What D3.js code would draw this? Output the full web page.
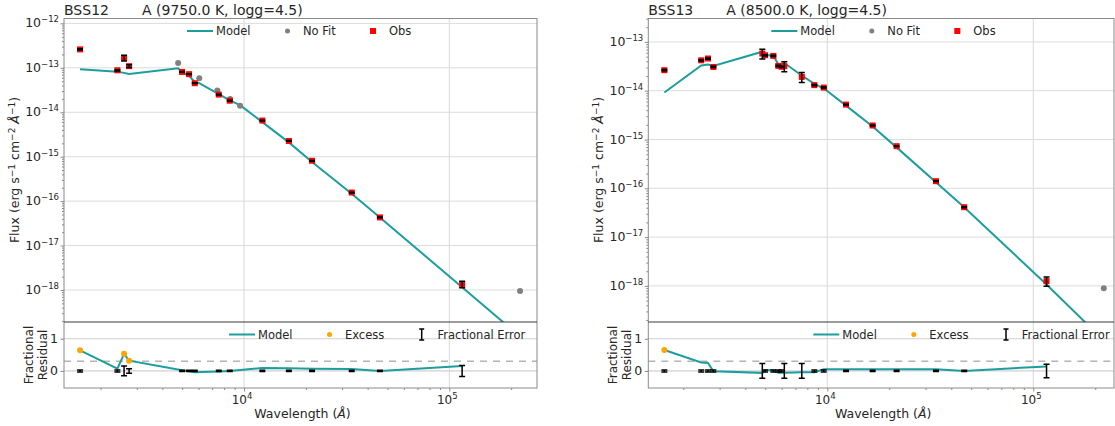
<!DOCTYPE html>
<html>
<head>
<meta charset="utf-8">
<script src="https://cdn.jsdelivr.net/npm/d3@7"></script>
<style>
  body { margin: 0; background: #fff; }
  svg text { font-family: "DejaVu Sans", sans-serif; fill: #262626; }
</style>
</head>
<body>
<svg width="1115" height="426"></svg>
<script>
// ---- BSS12 ----
var obsWaveL  = [1589, 2415, 2603, 2754, 4990, 5395, 5753, 7530, 8516, 12280, 16530, 21440, 33460, 45900, 115400];
var obsFluxL  = [2.6e-13, 8.8e-14, 1.67e-13, 1.09e-13, 8.07e-14, 7.2e-14, 4.5e-14, 2.5e-14, 1.82e-14, 6.5e-15, 2.26e-15, 8.1e-16, 1.56e-16, 4.3e-17, 1.35e-18];
var obsErrL   = [0.03, 0.03, 0.15, 0.07, 0.02, 0.02, 0.02, 0.02, 0.02, 0.02, 0.02, 0.02, 0.02, 0.02, 0.17];
var residL    = [0.64, 0.07, 0.53, 0.32, 0.02, -0.01, -0.04, -0.02, 0.0, 0.09, 0.08, 0.07, 0.06, 0.0, 0.15];
var nofitWaveL = [4773, 6050, 7410, 8550, 9560, 221000];
var nofitFluxL = [1.29e-13, 5.8e-14, 3.1e-14, 2.0e-14, 1.4e-14, 9.5e-19];
var modelWaveL = [1589, 2415, 2603, 2754, 4773, 4990, 5395, 5753, 6050, 7410, 7530, 8516, 8550, 9560, 12280, 16530, 21440, 33460, 45900, 115400, 221000];
var modelFluxL = [9.3e-14, 8.2e-14, 7.7e-14, 7.3e-14, 9.8e-14, 8.0e-14, 6.6e-14, 4.8e-14, 4.5e-14, 2.65e-14, 2.55e-14, 1.85e-14, 1.83e-14, 1.45e-14, 6.0e-15, 2.1e-15, 7.6e-16, 1.47e-16, 4.3e-17, 1.15e-18, 9e-20];

// ---- BSS13 ----
var obsWaveR  = [1618, 2443, 2634, 2798, 4836, 4985, 5470, 5783, 6005, 6185, 7520, 8650, 9610, 12330, 16600, 21700, 33700, 46200, 116000];
var obsFluxR  = [2.63e-14, 4.2e-14, 4.57e-14, 3.07e-14, 5.78e-14, 5.33e-14, 5.17e-14, 3.23e-14, 3.09e-14, 3.18e-14, 1.92e-14, 1.3e-14, 1.16e-14, 5.2e-15, 1.94e-15, 7.3e-16, 1.4e-16, 4.1e-17, 1.25e-18];
var obsErrR   = [0.03, 0.03, 0.03, 0.03, 0.23, 0.03, 0.03, 0.03, 0.03, 0.23, 0.23, 0.03, 0.03, 0.02, 0.02, 0.02, 0.02, 0.02, 0.21];
var residR    = [0.65, 0.26, 0.25, -0.01, -0.06, 0.03, 0.02, -0.06, -0.06, -0.06, -0.04, -0.04, 0.05, 0.05, 0.05, 0.05, 0.05, 0.0, 0.14];
var nofitWaveR = [220000];
var nofitFluxR = [8.9e-19];
var modelWaveR = [1618, 2443, 2634, 2798, 4836, 4985, 5470, 5783, 6005, 6185, 7520, 8650, 9610, 12330, 16600, 21700, 33700, 46200, 116000, 220000];
var modelFluxR = [9.2e-15, 3.3e-14, 3.45e-14, 3.2e-14, 6.3e-14, 5.4e-14, 5.2e-14, 3.5e-14, 3.55e-14, 3.7e-14, 2.05e-14, 1.38e-14, 1.12e-14, 4.95e-15, 1.84e-15, 6.9e-16, 1.33e-16, 4.1e-17, 1.07e-18, 7.6e-20];

var excessCut = 0.3;
var teal = '#1c9e9e';

var svg = d3.select('svg');

function sup(sel, base, exp) {
    sel.text(base);
    sel.append('tspan').attr('dy', -5).attr('font-size', 8.5).text(exp);
}

function drawPanel(p) {
    var g = svg.append('g');
    var top = 18.5, mid = 322, bot = 388;

    var x = d3.scaleLog().domain(p.xDom).range([p.x0, p.x1]);
    var y = d3.scaleLog().domain(p.yDom).range([mid, top]);
    var yr = d3.scaleLinear().domain([-0.53, 1.52]).range([bot, mid]);

    var clipId = 'clip' + p.name;
    g.append('clipPath').attr('id', clipId)
        .append('rect').attr('x', p.x0).attr('y', top)
        .attr('width', p.x1 - p.x0).attr('height', mid - top);

    // grid
    var decX = [1e4, 1e5];
    g.selectAll('.gx').data(decX).enter().append('line')
        .attr('x1', d => x(d)).attr('x2', d => x(d))
        .attr('y1', top).attr('y2', bot)
        .attr('stroke', '#d8d8d8').attr('stroke-width', 1);
    g.selectAll('.gy').data(p.yTicks).enter().append('line')
        .attr('x1', p.x0).attr('x2', p.x1)
        .attr('y1', d => y(d)).attr('y2', d => y(d))
        .attr('stroke', '#dcdcdc').attr('stroke-width', 1);
    g.selectAll('.gr').data([0, 1]).enter().append('line')
        .attr('x1', p.x0).attr('x2', p.x1)
        .attr('y1', d => yr(d)).attr('y2', d => yr(d))
        .attr('stroke', '#d0d0d0').attr('stroke-width', 1.2);
    g.append('line')
        .attr('x1', p.x0).attr('x2', p.x1)
        .attr('y1', yr(excessCut)).attr('y2', yr(excessCut))
        .attr('stroke', '#b4b4b4').attr('stroke-width', 1.5)
        .attr('stroke-dasharray', '7,6');

    // main panel marks
    var m = g.append('g').attr('clip-path', 'url(#' + clipId + ')');
    var model = d3.zip(p.modelWave, p.modelFlux);
    m.append('path').datum(model)
        .attr('d', d3.line().x(d => x(d[0])).y(d => y(d[1])))
        .attr('fill', 'none').attr('stroke', teal).attr('stroke-width', 2);

    m.selectAll('.nf').data(d3.zip(p.nofitWave, p.nofitFlux)).enter().append('circle')
        .attr('cx', d => x(d[0])).attr('cy', d => y(d[1])).attr('r', 3)
        .attr('fill', '#808080');

    var obs = d3.zip(p.obsWave, p.obsFlux, p.obsErr, p.resid);
    m.selectAll('.ob').data(obs).enter().append('rect')
        .attr('x', d => x(d[0]) - 3).attr('y', d => y(d[1]) - 3)
        .attr('width', 6).attr('height', 6).attr('fill', '#ff0000');

    function errBars(sel, data, fx, lo, hi) {
        sel.selectAll(null).data(data).enter().append('path')
            .attr('d', function(d) {
                var cx = fx(d), a = lo(d), b = hi(d);
                return 'M' + cx + ',' + a + 'V' + b +
                    'M' + (cx - 3) + ',' + a + 'H' + (cx + 3) +
                    'M' + (cx - 3) + ',' + b + 'H' + (cx + 3);
            })
            .attr('fill', 'none').attr('stroke', '#000').attr('stroke-width', 1.5);
    }
    errBars(m, obs, d => x(d[0]), d => y(d[1] * (1 - d[2])), d => y(d[1] * (1 + d[2])));

    // residual marks
    g.append('path').datum(obs)
        .attr('d', d3.line().x(d => x(d[0])).y(d => yr(d[3])))
        .attr('fill', 'none').attr('stroke', teal).attr('stroke-width', 2);
    g.selectAll('.ex').data(obs.filter(d => d[3] > excessCut)).enter().append('circle')
        .attr('cx', d => x(d[0])).attr('cy', d => yr(d[3])).attr('r', 3)
        .attr('fill', '#ffa500');
    errBars(g, obs, d => x(d[0]), d => yr(-d[2]), d => yr(d[2]));

    // spines
    g.append('rect').attr('x', p.x0).attr('y', top)
        .attr('width', p.x1 - p.x0).attr('height', bot - top)
        .attr('fill', 'none').attr('stroke', '#8a8a8a').attr('stroke-width', 1);
    g.append('line').attr('x1', p.x0).attr('x2', p.x1).attr('y1', mid).attr('y2', mid)
        .attr('stroke', '#3a3a3a').attr('stroke-width', 1.2);

    // y axis main (log)
    var ya = d3.axisLeft(y).tickValues(p.yTicks).tickSize(3.5).tickFormat('');
    g.append('g').attr('transform', 'translate(' + p.x0 + ',0)').call(ya);
    var minorY = [];
    for (var e = -19; e <= -11; e++) {
        for (var k = 2; k <= 9; k++) {
            var v = k * Math.pow(10, e);
            if (v > p.yDom[0] && v < p.yDom[1]) minorY.push(v);
        }
    }
    g.append('g').attr('transform', 'translate(' + p.x0 + ',0)')
        .call(d3.axisLeft(y).tickValues(minorY).tickSize(2).tickFormat(''));
    g.selectAll('.yl').data(p.yTicks).enter().append('text')
        .attr('x', p.x0 - 5).attr('y', d => y(d) + 4)
        .attr('text-anchor', 'end').attr('font-size', 12.5)
        .each(function(d) { sup(d3.select(this), '10', '\u2212' + Math.round(-Math.log10(d))); });

    // y axis residual
    g.append('g').attr('transform', 'translate(' + p.x0 + ',0)')
        .call(d3.axisLeft(yr).tickValues([0, 1]).tickSize(3.5).tickFormat(''));
    g.selectAll('.rl').data([0, 1]).enter().append('text')
        .attr('x', p.x0 - 6).attr('y', d => yr(d) + 4.5)
        .attr('text-anchor', 'end').attr('font-size', 12.5)
        .text(d => d);

    // x axis
    var minorX = [];
    for (var ex = 3; ex <= 5; ex++) {
        for (var kk = 2; kk <= 9; kk++) {
            var vx = kk * Math.pow(10, ex);
            if (vx > p.xDom[0] && vx < p.xDom[1]) minorX.push(vx);
        }
    }
    g.append('g').attr('transform', 'translate(0,' + bot + ')')
        .call(d3.axisBottom(x).tickValues(decX).tickSize(3.5).tickFormat(''));
    g.append('g').attr('transform', 'translate(0,' + bot + ')')
        .call(d3.axisBottom(x).tickValues(minorX).tickSize(2).tickFormat(''));
    g.selectAll('.xl').data(decX).enter().append('text')
        .attr('x', d => x(d) - 2).attr('y', bot + 16)
        .attr('text-anchor', 'middle').attr('font-size', 12)
        .each(function(d) { sup(d3.select(this), '10', String(Math.round(Math.log10(d)))); });

    g.selectAll('.domain').remove();
    g.selectAll('.tick line').attr('stroke', '#8a8a8a');

    // labels
    g.append('text').attr('x', p.x0).attr('y', 15).attr('font-size', 14).text(p.name);
    g.append('text').attr('x', p.x0 + 78).attr('y', 15).attr('font-size', 14).text(p.fit);

    var fl = g.append('text')
        .attr('transform', 'translate(' + (p.x0 - 45) + ',' + 170 + ') rotate(-90)')
        .attr('text-anchor', 'middle').attr('font-size', 12.5);
    fl.append('tspan').text('Flux (erg s');
    fl.append('tspan').attr('dy', -4.5).attr('font-size', 9).text('\u22121');
    fl.append('tspan').attr('dy', 4.5).text(' cm');
    fl.append('tspan').attr('dy', -4.5).attr('font-size', 9).text('\u22122');
    fl.append('tspan').attr('dy', 4.5).attr('font-style', 'italic').text(' \u00c5');
    fl.append('tspan').attr('dy', -4.5).attr('font-size', 9).text('\u22121');
    fl.append('tspan').attr('dy', 4.5).text(')');

    g.append('text')
        .attr('transform', 'translate(' + (p.x0 - 31) + ',355) rotate(-90)')
        .attr('text-anchor', 'middle').attr('font-size', 12).text('Fractional');
    g.append('text')
        .attr('transform', 'translate(' + (p.x0 - 17.5) + ',355) rotate(-90)')
        .attr('text-anchor', 'middle').attr('font-size', 12).text('Residual');

    var wl = g.append('text').attr('x', (p.x0 + p.x1) / 2 + 2).attr('y', 418)
        .attr('text-anchor', 'middle').attr('font-size', 12.5);
    wl.append('tspan').text('Wavelength (');
    wl.append('tspan').attr('font-style', 'italic').text('\u00c5');
    wl.append('tspan').text(')');

    // legends
    var ly = 31, lx = p.x0;
    g.append('line').attr('x1', lx + 123).attr('x2', lx + 149).attr('y1', ly).attr('y2', ly)
        .attr('stroke', teal).attr('stroke-width', 2);
    g.append('text').attr('x', lx + 152).attr('y', ly + 4).attr('font-size', 11.5).text('Model');
    g.append('circle').attr('cx', lx + 223.5).attr('cy', ly).attr('r', 2.5).attr('fill', '#808080');
    g.append('text').attr('x', lx + 239).attr('y', ly + 4).attr('font-size', 11.5).text('No Fit');
    g.append('rect').attr('x', lx + 306).attr('y', ly - 3).attr('width', 6).attr('height', 6).attr('fill', '#ff0000');
    g.append('text').attr('x', lx + 325).attr('y', ly + 4).attr('font-size', 11.5).text('Obs');

    var ry = 334.5;
    g.append('line').attr('x1', lx + 165).attr('x2', lx + 191).attr('y1', ry).attr('y2', ry)
        .attr('stroke', teal).attr('stroke-width', 2);
    g.append('text').attr('x', lx + 194).attr('y', ry + 4).attr('font-size', 11.5).text('Model');
    g.append('circle').attr('cx', lx + 265.5).attr('cy', ry).attr('r', 2.5).attr('fill', '#ffa500');
    g.append('text').attr('x', lx + 281).attr('y', ry + 4).attr('font-size', 11.5).text('Excess');
    g.append('path')
        .attr('d', 'M' + (lx + 357.7) + ',' + (ry - 5.5) + 'V' + (ry + 5.5) +
            'M' + (lx + 355.2) + ',' + (ry - 5.5) + 'H' + (lx + 360.2) +
            'M' + (lx + 355.2) + ',' + (ry + 5.5) + 'H' + (lx + 360.2))
        .attr('stroke', '#000').attr('stroke-width', 1.5).attr('fill', 'none');
    g.append('text').attr('x', lx + 373.5).attr('y', ry + 4).attr('font-size', 11.5).text('Fractional Error');
}

drawPanel({
    name: 'BSS12', fit: 'A (9750.0 K, logg=4.5)',
    x0: 64, x1: 537, xDom: [1327, 267300],
    yDom: [Math.pow(10, -18.72), Math.pow(10, -11.89)],
    yTicks: [1e-18, 1e-17, 1e-16, 1e-15, 1e-14, 1e-13, 1e-12],
    obsWave: obsWaveL, obsFlux: obsFluxL, obsErr: obsErrL, resid: residL,
    nofitWave: nofitWaveL, nofitFlux: nofitFluxL,
    modelWave: modelWaveL, modelFlux: modelFluxL
});

drawPanel({
    name: 'BSS13', fit: 'A (8500.0 K, logg=4.5)',
    x0: 648.3, x1: 1114, xDom: [1352, 246600],
    yDom: [Math.pow(10, -18.74), Math.pow(10, -12.52)],
    yTicks: [1e-18, 1e-17, 1e-16, 1e-15, 1e-14, 1e-13],
    obsWave: obsWaveR, obsFlux: obsFluxR, obsErr: obsErrR, resid: residR,
    nofitWave: nofitWaveR, nofitFlux: nofitFluxR,
    modelWave: modelWaveR, modelFlux: modelFluxR
});
</script>
</body>
</html>
